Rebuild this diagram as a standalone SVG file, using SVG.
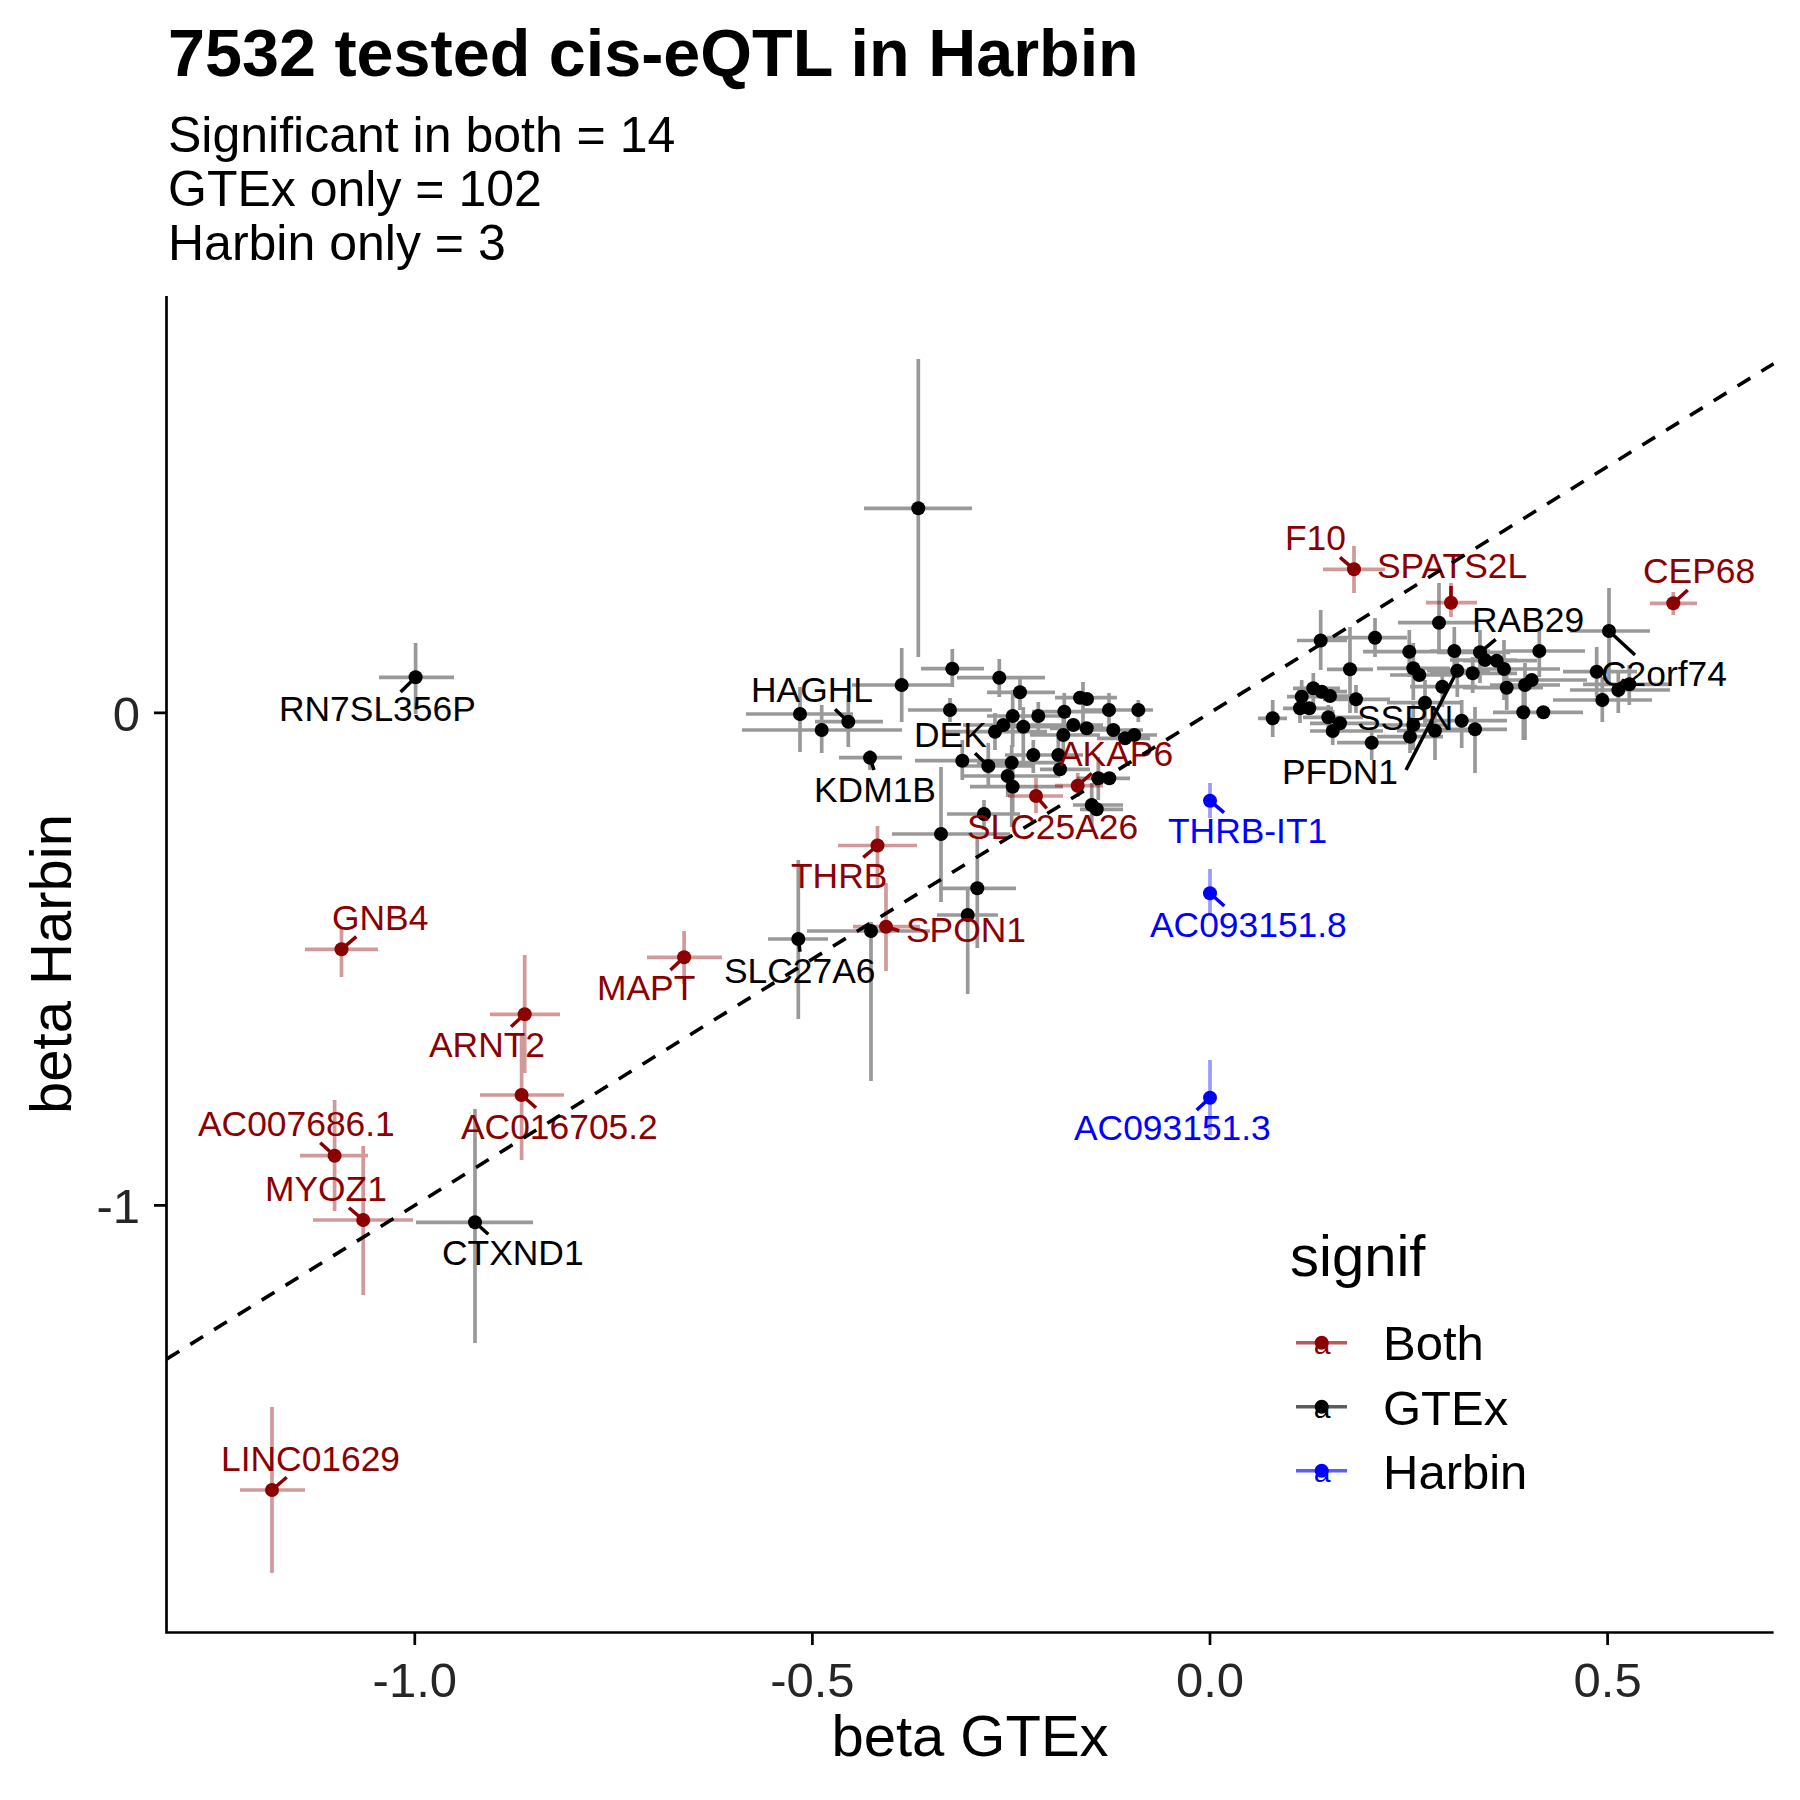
<svg xmlns="http://www.w3.org/2000/svg" width="1800" height="1800" viewBox="0 0 1800 1800">
<style>
text{font-family:"Liberation Sans",Arial,sans-serif}
.eg{stroke:#000;stroke-opacity:.4;stroke-width:3.7;fill:none}
.er{stroke:#8B0000;stroke-opacity:.4;stroke-width:3.7;fill:none}
.eb{stroke:#0000FF;stroke-opacity:.4;stroke-width:3.7;fill:none}
.pg{fill:#000}.pr{fill:#8B0000}.pb{fill:#0000FF}
.lg{stroke:#000;stroke-width:3.5}.lr{stroke:#8B0000;stroke-width:3.5}.lb{stroke:#0000FF;stroke-width:3.5}
.tg{font-size:35.4px;fill:#000}.tr{font-size:35.4px;fill:#8B0000}.tb{font-size:35.4px;fill:#0000FF}
.ax{stroke:#000;stroke-width:2.7;fill:none}
.tick{font-size:49px;fill:#262626}
</style>
<rect width="1800" height="1800" fill="#fff"/>
<text x="168" y="76" font-size="66.5" font-weight="bold">7532 tested cis-eQTL in Harbin</text>
<text x="168" y="152" font-size="50">Significant in both = 14</text>
<text x="168" y="206" font-size="50">GTEx only = 102</text>
<text x="168" y="260" font-size="50">Harbin only = 3</text>
<g id="errorbars">
<path class="eg" d="M921 668.7H984M952.3 649V687M852 685H953M901.7 648V722M957 677.7H1045M999.3 659V697M987 692.3H1055M1020 677V710M746 714H853M800 687V752M742 730H902M821.7 705V753M815 721.7H883M848.3 695V747M908 710H992M950 698V722M839 757.7H902M870 750V770M1055 697.7H1117M1083 682V723M1083 710H1138M1109 693V730M1123 710H1153M1138.3 700V722M1032 711.7H1107M1064.3 693V737M1003 716H1070M1038.3 702V732M987 716H1060M1012.7 690V747M963 725H1047M943 731.7H1047M995 713V750M993 726.7H1063M1023.3 707V767M1043 725H1103M1050 728.3H1120M1030 735H1100M1063.3 718V753M1083 730H1143M1097 738.3H1150M1110 735H1157M915 760.7H1008M962.3 740V780M965 766H1032M988.3 743V787M1005 755H1063M1033.3 740V773M977 762.7H1057M1011.7 745V827M1040 755H1083M1058.3 737V777M1040 769.3H1090M963 776H1060M1007.7 760V797M970 786.7H1063M1012.7 767V813M1077 778.3H1127M1098.3 757V800M1093 778.3H1130M1073 805H1123M1091.7 783V827M1080 809.3H1123M947 814H1020M984 800V830M892 834H1010M941 767V902M864 508.3H972M918.3 359V657M939 888.3H1016M977.3 838V948M937 915H998M967.7 890V994M807 931H930M871 922V1081M768 939H828M798.3 860V1019M416 1222.3H533M475 1109V1343M379 677.3H454M415.6 643V714"/>
<path class="eg" d="M1398 622.7H1477M1439 583V653M1570 631H1650M1609 588V683M1297 640.5H1347M1320.7 610V670M1327 637.7H1407M1375 618V657M1363 651.7H1483M1409.3 630V677M1430 651H1490M1454.3 627V677M1437 652.3H1510M1480 630V683M1450 660H1517M1463 660.7H1537M1467 669H1560M1504 640V700M1503 651H1585M1539.3 630V677M1327 669.3H1373M1350 627V713M1377 668.3H1450M1413.3 643V700M1390 675H1457M1427 670.7H1490M1457.3 650V697M1430 673.3H1517M1472.7 657V693M1463 687.7H1543M1506.7 663V710M1490 685H1560M1525 663V740M1503 680H1587M1563 671.7H1637M1596.7 647V697M1570 690H1670M1618.3 670V713M1583 684.3H1670M1629.3 665V705M1553 700H1652M1602.3 677V722M1410 686.7H1477M1442.3 667V707M1387 702.7H1463M1425 680V727M1293 688.3H1340M1313.3 673V707M1297 691.7H1347M1297 696H1360M1287 696.7H1327M1301.7 680V713M1283 708.3H1323M1300 690V723M1290 708.3H1333M1258 718.3H1287M1272.7 700V737M1323 699.3H1390M1356 685V713M1303 717.3H1363M1328.3 705V735M1310 723.3H1377M1310 731H1383M1332.7 710V745M1337 742.7H1407M1371.7 727V760M1377 725H1450M1413.3 703V750M1377 736.7H1443M1410 717V753M1397 730.7H1470M1435 710V760M1423 720.7H1507M1461.7 700V748M1440 729.3H1507M1475 707V773M1493 712.3H1583M1523.3 683V740M1510 712.3H1580"/>
<path class="er" d="M1323 569.3H1385M1354 546V593M1426 602.7H1477M1451 583V617M1650 603.3H1697M1673.3 592V615M1055 785.7H1103M1077.7 773V797M1008 796H1063M1036 778V813M838 845.5H917M877.5 826V886M853 926.7H920M886 883V971M647 957.3H722M684.1 931V984M305 949.3H378M341.5 928V977M490 1014.3H560M524.7 955V1073M480 1095H564M521.6 1035V1160M300 1155.7H368M334.6 1100V1211M313 1220H413M363.2 1146V1295M240 1490H305M272 1407V1573"/>
<path class="eb" d="M1210 783V818M1210 869V915M1210 1060V1135"/>
</g>
<g id="points">
<g class="pg">
<circle cx="952.3" cy="668.7" r="7"/><circle cx="901.7" cy="685" r="7"/><circle cx="999.3" cy="677.7" r="7"/><circle cx="1020" cy="692.3" r="7"/><circle cx="800" cy="714" r="7"/><circle cx="821.7" cy="730" r="7"/><circle cx="848.3" cy="721.7" r="7"/><circle cx="950" cy="710" r="7"/><circle cx="870" cy="757.7" r="7"/><circle cx="1080" cy="697.7" r="7"/><circle cx="1087" cy="699" r="7"/><circle cx="1109" cy="710" r="7"/><circle cx="1138.3" cy="710" r="7"/><circle cx="1064.3" cy="711.7" r="7"/><circle cx="1038.3" cy="716" r="7"/><circle cx="1012.7" cy="716" r="7"/><circle cx="1003.3" cy="725" r="7"/><circle cx="995" cy="731.7" r="7"/><circle cx="1023.3" cy="726.7" r="7"/><circle cx="1073.3" cy="725" r="7"/><circle cx="1086.7" cy="728.3" r="7"/><circle cx="1063.3" cy="735" r="7"/><circle cx="1113.3" cy="730" r="7"/><circle cx="1125" cy="738.3" r="7"/><circle cx="1134.3" cy="735" r="7"/><circle cx="962.3" cy="760.7" r="7"/><circle cx="988.3" cy="766" r="7"/><circle cx="1033.3" cy="755" r="7"/><circle cx="1011.7" cy="762.7" r="7"/><circle cx="1058.3" cy="755" r="7"/><circle cx="1060" cy="769.3" r="7"/><circle cx="1007.7" cy="776" r="7"/><circle cx="1012.7" cy="786.7" r="7"/><circle cx="1098.3" cy="778.3" r="7"/><circle cx="1109.3" cy="778.3" r="7"/><circle cx="1091.7" cy="805" r="7"/><circle cx="1096.7" cy="809.3" r="7"/><circle cx="984" cy="814" r="7"/><circle cx="941" cy="834" r="7"/><circle cx="918.3" cy="508.3" r="7"/><circle cx="977.3" cy="888.3" r="7"/><circle cx="967.7" cy="915" r="7"/><circle cx="871" cy="931" r="7"/><circle cx="798.3" cy="939" r="7"/><circle cx="475" cy="1222.3" r="7"/><circle cx="415.6" cy="677.3" r="7"/>
<circle cx="1439" cy="622.7" r="7"/><circle cx="1609" cy="631" r="7"/><circle cx="1320.7" cy="640.5" r="7"/><circle cx="1375" cy="637.7" r="7"/><circle cx="1409.3" cy="651.7" r="7"/><circle cx="1454.3" cy="651" r="7"/><circle cx="1480" cy="652.3" r="7"/><circle cx="1485" cy="660" r="7"/><circle cx="1496.7" cy="660.7" r="7"/><circle cx="1504" cy="669" r="7"/><circle cx="1539.3" cy="651" r="7"/><circle cx="1350" cy="669.3" r="7"/><circle cx="1413.3" cy="668.3" r="7"/><circle cx="1419.3" cy="675" r="7"/><circle cx="1457.3" cy="670.7" r="7"/><circle cx="1472.7" cy="673.3" r="7"/><circle cx="1506.7" cy="687.7" r="7"/><circle cx="1525" cy="685" r="7"/><circle cx="1531.7" cy="680" r="7"/><circle cx="1596.7" cy="671.7" r="7"/><circle cx="1618.3" cy="690" r="7"/><circle cx="1629.3" cy="684.3" r="7"/><circle cx="1602.3" cy="700" r="7"/><circle cx="1442.3" cy="686.7" r="7"/><circle cx="1425" cy="702.7" r="7"/><circle cx="1313.3" cy="688.3" r="7"/><circle cx="1321.7" cy="691.7" r="7"/><circle cx="1330" cy="696" r="7"/><circle cx="1301.7" cy="696.7" r="7"/><circle cx="1300" cy="708.3" r="7"/><circle cx="1309.3" cy="708.3" r="7"/><circle cx="1272.7" cy="718.3" r="7"/><circle cx="1356" cy="699.3" r="7"/><circle cx="1328.3" cy="717.3" r="7"/><circle cx="1340" cy="723.3" r="7"/><circle cx="1332.7" cy="731" r="7"/><circle cx="1371.7" cy="742.7" r="7"/><circle cx="1413.3" cy="725" r="7"/><circle cx="1410" cy="736.7" r="7"/><circle cx="1435" cy="730.7" r="7"/><circle cx="1461.7" cy="720.7" r="7"/><circle cx="1475" cy="729.3" r="7"/><circle cx="1523.3" cy="712.3" r="7"/><circle cx="1543.3" cy="712.3" r="7"/>
</g>
<g class="pr">
<circle cx="1354" cy="569.3" r="7"/><circle cx="1451" cy="602.7" r="7"/><circle cx="1673.3" cy="603.3" r="7"/><circle cx="1077.7" cy="785.7" r="7"/><circle cx="1036" cy="796" r="7"/><circle cx="877.5" cy="845.5" r="7"/><circle cx="886" cy="926.7" r="7"/><circle cx="684.1" cy="957.3" r="7"/><circle cx="341.5" cy="949.3" r="7"/><circle cx="524.7" cy="1014.3" r="7"/><circle cx="521.6" cy="1095" r="7"/><circle cx="334.6" cy="1155.7" r="7"/><circle cx="363.2" cy="1220" r="7"/><circle cx="272" cy="1490" r="7"/>
</g>
<g class="pb">
<circle cx="1210" cy="800.7" r="7"/><circle cx="1210" cy="893.3" r="7"/><circle cx="1210" cy="1097.7" r="7"/>
</g>
</g>
<g id="labels">
<path class="lg" d="M415.6 677.3L400.6 692M848.3 721.7L835 709.3M870 757.7L874 770M988.3 766L975 753.3M798.3 939L800 951.7M475 1222.3L488.3 1234.3M1480 652.3L1495.7 639.3M1609 631L1635 655M1457.3 670.7L1406 770"/>
<path class="lr" d="M1354 569.3L1340 557.3M1451 602.7L1451 586M1673.3 603.3L1687.7 590M1077.7 785.7L1091.7 773.3M1036 796L1046.7 808.3M877.5 845.5L863.3 857.3M886 926.7L899.3 930.7M684.1 957.3L670.4 970M341.5 949.3L356.3 936.7M524.7 1014.3L511 1026.7M521.6 1095L536 1107.7M334.6 1155.7L320.2 1142.7M363.2 1220L349 1207.7M272 1490L286.7 1477.3"/>
<path class="lb" d="M1210 800.7L1224 812.7M1210 893.3L1224.3 906M1210 1097.7L1196.7 1110"/>
<g transform="translate(2 0)">
<text class="tg" x="277" y="721">RN7SL356P</text>
<text class="tg" x="749" y="701.5">HAGHL</text>
<text class="tg" x="812" y="801.5">KDM1B</text>
<text class="tg" x="912" y="746.5">DEK</text>
<text class="tg" x="722" y="983">SLC27A6</text>
<text class="tg" x="440" y="1265">CTXND1</text>
<text class="tg" x="1470" y="631.5">RAB29</text>
<text class="tg" x="1599" y="685.5">C2orf74</text>
<text class="tg" x="1355" y="730">SSPN</text>
<text class="tg" x="1280" y="784">PFDN1</text>
<text class="tr" x="1283" y="550">F10</text>
<text class="tr" x="1375" y="577.5">SPATS2L</text>
<text class="tr" x="1641" y="583">CEP68</text>
<text class="tr" x="1057" y="765.5">AKAP6</text>
<text class="tr" x="965" y="838.5">SLC25A26</text>
<text class="tr" x="789" y="888">THRB</text>
<text class="tr" x="904" y="941.5">SPON1</text>
<text class="tr" x="595" y="1000">MAPT</text>
<text class="tr" x="330" y="930">GNB4</text>
<text class="tr" x="427" y="1057">ARNT2</text>
<text class="tr" x="459" y="1138.5">AC016705.2</text>
<text class="tr" x="196" y="1136">AC007686.1</text>
<text class="tr" x="263" y="1200.5">MYOZ1</text>
<text class="tr" x="219" y="1470.5">LINC01629</text>
<text class="tb" x="1166" y="843">THRB-IT1</text>
<text class="tb" x="1148" y="936.7">AC093151.8</text>
<text class="tb" x="1072" y="1140">AC093151.3</text>
</g>
</g>
<g id="refline">
<line x1="166.5" y1="1359.1" x2="1773.6" y2="363.7" stroke="#000" stroke-width="3.6" stroke-dasharray="15 13"/>
</g>
<g id="axes">
<path class="ax" d="M166.5 296V1632.5H1773.6"/>
<path class="ax" d="M414.8 1632.5V1645M812.4 1632.5V1645M1210 1632.5V1645M1607.6 1632.5V1645M154 712.9H166.5M154 1205.4H166.5"/>
<g class="tick" text-anchor="middle">
<text x="414.8" y="1697">-1.0</text>
<text x="812.4" y="1697">-0.5</text>
<text x="1210" y="1697">0.0</text>
<text x="1607.6" y="1697">0.5</text>
</g>
<g class="tick" text-anchor="end">
<text x="140" y="730.5">0</text>
<text x="140" y="1223">-1</text>
</g>
<text x="970" y="1756" font-size="58" text-anchor="middle">beta GTEx</text>
<text transform="translate(71 964) rotate(-90)" font-size="58" text-anchor="middle">beta Harbin</text>
</g>
<g id="legend">
<text x="1290" y="1276" font-size="58">signif</text>
<path d="M1296 1342.7H1347" stroke="#8B0000" stroke-opacity=".64" stroke-width="3.6"/>
<path d="M1296 1406.7H1347" stroke="#000" stroke-opacity=".64" stroke-width="3.6"/>
<path d="M1296 1470.7H1347" stroke="#0000FF" stroke-opacity=".64" stroke-width="3.6"/>
<circle cx="1321.7" cy="1342.7" r="7" fill="#8B0000"/>
<circle cx="1321.7" cy="1406.7" r="7" fill="#000"/>
<circle cx="1321.7" cy="1470.7" r="7" fill="#0000FF"/>
<text x="1322" y="1354" font-size="30" text-anchor="middle" fill="#8B0000">a</text>
<text x="1322" y="1418" font-size="30" text-anchor="middle" fill="#000">a</text>
<text x="1322" y="1482" font-size="30" text-anchor="middle" fill="#0000FF">a</text>
<text x="1383" y="1360" font-size="49">Both</text>
<text x="1383" y="1424.5" font-size="49">GTEx</text>
<text x="1383" y="1488.5" font-size="49">Harbin</text>
</g>
</svg>
